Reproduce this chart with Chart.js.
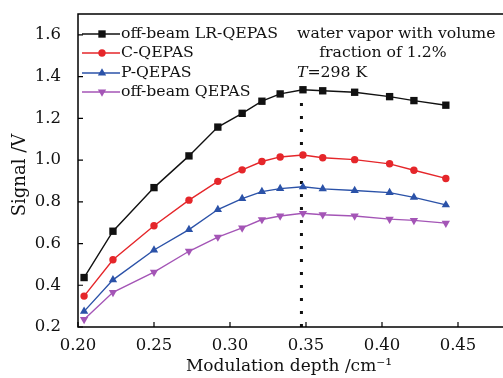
<!DOCTYPE html>
<html>
<head>
<meta charset="utf-8">
<script src="https://cdn.jsdelivr.net/npm/chart.js@4"></script>
<style>
  html, body { margin: 0; padding: 0; background: #fff; overflow: hidden; }
  #wrap { width: 540px; height: 378px; }
</style>
</head>
<body>
<div id="wrap"><canvas id="signal"></canvas></div>
<script>
// modulation depth (cm^-1)
const depth = [0.204, 0.223, 0.250, 0.273, 0.292, 0.308, 0.321, 0.333, 0.348, 0.361, 0.382, 0.405, 0.421, 0.442];

const offBeamLR = [0.437, 0.659, 0.868, 1.020, 1.158, 1.224, 1.282, 1.317, 1.337, 1.332, 1.325, 1.304, 1.285, 1.263];
const cQepas = [0.348, 0.522, 0.685, 0.808, 0.898, 0.953, 0.993, 1.015, 1.024, 1.011, 1.002, 0.982, 0.951, 0.912];
const pQepas = [0.275, 0.426, 0.569, 0.667, 0.763, 0.815, 0.849, 0.863, 0.872, 0.862, 0.854, 0.844, 0.821, 0.785];
const offBeam = [0.236, 0.366, 0.463, 0.563, 0.631, 0.675, 0.715, 0.732, 0.745, 0.738, 0.732, 0.717, 0.711, 0.698];

const xTicks = [0.20, 0.25, 0.30, 0.35, 0.40, 0.45, 0.50];
const yTicks = [0.2, 0.4, 0.6, 0.8, 1.0, 1.2, 1.4, 1.6];

const optimumDepth = 0.347;
const optimumTop = 1.29;

const SERIF = '"DejaVu Serif", "Liberation Serif", serif';

const toPoints = (ys) => ys.map((y, i) => ({ x: depth[i], y: y }));

const series = [
  { label: 'off-beam LR-QEPAS', data: offBeamLR, color: '#111111', style: 'rect', radius: 5.2, rot: 0 },
  { label: 'C-QEPAS', data: cQepas, color: '#e5262a', style: 'circle', radius: 3.7, rot: 0 },
  { label: 'P-QEPAS', data: pQepas, color: '#2b52a8', style: 'triangle', radius: 4.8, rot: 0 },
  { label: 'off-beam QEPAS', data: offBeam, color: '#a455b6', style: 'triangle', radius: 4.8, rot: 180 }
];

const datasets = series.map(s => ({
  label: s.label,
  data: toPoints(s.data),
  borderColor: s.color,
  backgroundColor: s.color,
  borderWidth: 1.4,
  pointStyle: s.style,
  pointRadius: s.radius,
  pointRotation: s.rot,
  pointBorderWidth: 0,
  tension: 0
}));

datasets.push({
  label: 'optimum',
  data: [{ x: optimumDepth, y: 0.2 }, { x: optimumDepth, y: optimumTop }],
  borderColor: '#111',
  borderWidth: 3,
  borderDash: [3, 10],
  pointRadius: 0
});

function marker(ctx, style, x, y, r, rot) {
  ctx.beginPath();
  if (style === 'rect') {
    const h = r * Math.SQRT1_2;
    ctx.rect(x - h, y - h, 2 * h, 2 * h);
  } else if (style === 'circle') {
    ctx.arc(x, y, r, 0, Math.PI * 2);
  } else {
    const d = rot ? -1 : 1;
    ctx.moveTo(x, y - d * r);
    ctx.lineTo(x - r * 0.866, y + d * r * 0.5);
    ctx.lineTo(x + r * 0.866, y + d * r * 0.5);
    ctx.closePath();
  }
  ctx.fill();
}

const framePlugin = {
  id: 'frame',
  afterDraw(chart) {
    const { ctx, chartArea: a, scales } = chart;
    ctx.save();
    ctx.strokeStyle = '#000';
    ctx.lineWidth = 1.5;
    ctx.strokeRect(a.left, a.top, a.right - a.left, a.bottom - a.top);
    // inward ticks
    ctx.lineWidth = 1.2;
    ctx.beginPath();
    xTicks.forEach(v => {
      const px = scales.x.getPixelForValue(v);
      ctx.moveTo(px, a.bottom);
      ctx.lineTo(px, a.bottom - 5);
    });
    yTicks.forEach(v => {
      const py = scales.y.getPixelForValue(v);
      ctx.moveTo(a.left, py);
      ctx.lineTo(a.left + 5, py);
    });
    ctx.stroke();

    // legend
    ctx.font = '15.7px ' + SERIF;
    ctx.textBaseline = 'middle';
    ctx.textAlign = 'left';
    const rows = [34, 53, 73, 92];
    series.forEach((s, i) => {
      const y = rows[i];
      ctx.strokeStyle = s.color;
      ctx.fillStyle = s.color;
      ctx.lineWidth = 1.4;
      ctx.beginPath();
      ctx.moveTo(a.left + 4, y);
      ctx.lineTo(a.left + 42, y);
      ctx.stroke();
      marker(ctx, s.style, a.left + 24, y, s.radius, s.rot);
      ctx.fillStyle = '#111';
      ctx.fillText(s.label, a.left + 43, y);
    });

    // annotation
    ctx.fillStyle = '#111';
    ctx.fillText('water vapor with volume', 297, 34);
    ctx.textAlign = 'center';
    ctx.fillText('fraction of 1.2%', 383, 53);
    ctx.textAlign = 'left';
    ctx.font = 'italic 15.7px ' + SERIF;
    ctx.fillText('T', 297, 73);
    const tw = ctx.measureText('T').width;
    ctx.font = '15.7px ' + SERIF;
    ctx.fillText('=298 K', 297 + tw, 73);

    // axis titles
    ctx.font = '17px ' + SERIF;
    ctx.textAlign = 'center';
    ctx.fillText('Modulation depth /cm\u207B\u00B9', 289, 367);
    ctx.translate(20, 175);
    ctx.rotate(-Math.PI / 2);
    ctx.font = '18px ' + SERIF;
    ctx.fillText('Signal /V', 0, 0);
    ctx.restore();
  }
};

new Chart(document.getElementById('signal'), {
  type: 'line',
  data: { datasets: datasets },
  options: {
    responsive: true,
    maintainAspectRatio: false,
    animation: false,
    layout: { padding: { top: 14, right: 6, left: 0, bottom: 0 } },
    plugins: {
      legend: { display: false },
      tooltip: { enabled: false }
    },
    scales: {
      x: {
        type: 'linear',
        min: 0.20,
        max: 0.50,
        border: { display: false },
        grid: { display: false },
        afterBuildTicks: (scale) => { scale.ticks = xTicks.map(v => ({ value: v })); },
        afterFit: (scale) => {
          scale.height = 51;
          scale.paddingLeft = 0;
          scale.paddingRight = 0;
        },
        ticks: {
          color: '#111',
          font: { family: SERIF, size: 16.5 },
          padding: 1,
          maxRotation: 0,
          callback: (v) => v.toFixed(2)
        }
      },
      y: {
        min: 0.2,
        max: 1.7,
        border: { display: false },
        grid: { display: false },
        afterBuildTicks: (scale) => { scale.ticks = yTicks.map(v => ({ value: v })); },
        afterFit: (scale) => {
          scale.width = 78;
          scale.paddingTop = 0;
          scale.paddingBottom = 0;
        },
        ticks: {
          color: '#111',
          font: { family: SERIF, size: 16.5 },
          padding: 9,
          callback: (v) => v.toFixed(1)
        }
      }
    }
  },
  plugins: [framePlugin]
});
</script>
</body>
</html>
